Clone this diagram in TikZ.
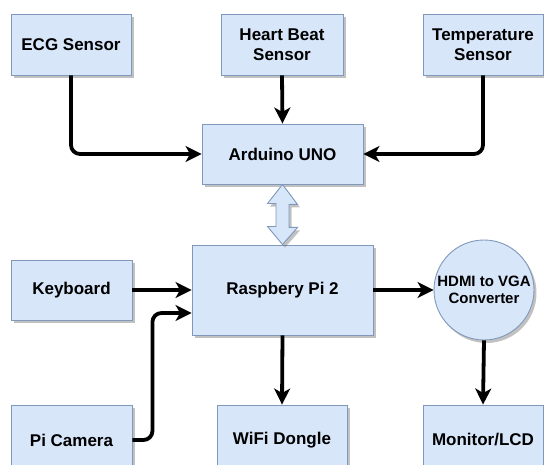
\documentclass[tikz,border=0pt]{standalone}
\usepackage{fontspec}
\setmainfont{Liberation Sans}
\usetikzlibrary{arrows.meta,calc,shadows}
\definecolor{boxfill}{HTML}{D8E6FA}
\definecolor{boxline}{HTML}{8098BA}
\begin{document}
\begin{tikzpicture}[x=1pt,y=-1pt,
  blk/.style={draw=boxline, fill=boxfill, line width=0.9pt, align=center, inner sep=0pt,
    font=\bfseries\fontsize{17}{20}\selectfont,
    drop shadow={shadow xshift=2.5pt, shadow yshift=-3pt, opacity=0.4, fill=black!60}},
  conn/.style={line width=3.8pt, -{Stealth[length=16pt,width=16pt,inset=4.5pt]}, rounded corners=9pt},
  dbl/.style={draw=boxline, fill=boxfill, line width=0.9pt, line join=miter,
    drop shadow={shadow xshift=2.5pt, shadow yshift=-3pt, opacity=0.4, fill=black!60}}]
\fill[white] (0,0) rectangle (544,465);
\useasboundingbox (0,0) rectangle (544,465);

\node[blk, minimum width=120pt, minimum height=61pt] (ecg) at (71,44.5) {ECG Sensor};
\node[blk, minimum width=122pt, minimum height=61pt] (hb) at (282,44.5) {Heart Beat\\Sensor};
\node[blk, minimum width=120pt, minimum height=61pt] (temp) at (483,44.5) {Temperature\\Sensor};
\node[blk, minimum width=161pt, minimum height=60pt] (ard) at (282.5,154) {Arduino UNO};
\node[blk, minimum width=181pt, minimum height=90pt] (rpi) at (282.5,290) {Raspbery Pi 2};
\node[blk, minimum width=121pt, minimum height=60pt] (kb) at (71.5,290) {Keyboard};
\node[blk, circle, minimum size=100pt, font=\bfseries\fontsize{15}{17}\selectfont] (hdmi) at (484,290) {HDMI to VGA\\Converter};
\node[blk, minimum width=121pt, minimum height=70pt] (cam) at (71.5,440) {Pi Camera};
\node[blk, minimum width=130pt, minimum height=70pt] (wifi) at (282,440) {WiFi Dongle};
\node[blk, minimum width=120pt, minimum height=70pt] (mon) at (483,440) {Monitor/LCD};

\draw[conn] (ecg.south) |- (ard.west);
\draw[conn] (hb.south) -- (ard.north);
\draw[conn] (temp.south) |- (ard.east);
\draw[conn] (kb.east) -- (rpi.west);
\draw[conn] (cam.east) -- ++(20,0) |- ($(rpi.west)+(0,23)$);
\draw[conn] (rpi.east) -- (hdmi.west);
\draw[conn] (rpi.south) -- (wifi.north);
\draw[conn] (hdmi.south) -- (mon.north);

\draw[dbl] (ard.south) -- ++(15,20) -- ++(-8.5,0) -- ++(0,23) -- ++(8.5,0) -- (rpi.north)
  -- ++(-15,-18) -- ++(8.5,0) -- ++(0,-23) -- ++(-8.5,0) -- cycle;
\end{tikzpicture}
\end{document}
